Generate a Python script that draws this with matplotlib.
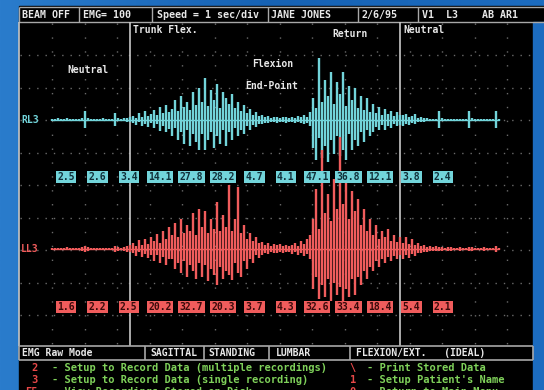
import numpy as np
import matplotlib
matplotlib.use("Agg")
import matplotlib.pyplot as plt

# raw EMG excursion per 3 px column, from the left trace edge: up (hi) and down (lo)
rl3_hi = [1, 1, 2, 1, 1, 2, 1, 1, 1, 1,
          2, 9, 2, 1, 1,
          1, 1, 2, 1, 1, 1,
          7, 2, 1,
          2, 2, 3,
          4, 2, 7, 3, 9, 4, 6,
          10, 5, 13, 7, 15, 8,
          11, 20, 9, 24, 13, 18, 10, 28, 15, 32,
          18, 42, 14, 30, 20, 36, 12, 28, 22, 16,
          26, 12, 18, 9, 15, 7, 11, 5, 8, 4,
          5, 3, 4, 2, 3, 3, 2, 3, 3, 2,
          3, 2, 4, 3, 5, 3, 8,
          22, 12, 62, 18, 40, 24, 48, 16, 38, 26,
          48, 14, 34, 20, 32, 12, 24, 10, 22, 8,
          16, 7, 13, 5, 11, 6, 9, 4, 8, 5,
          5, 6, 3, 4, 6, 2, 3, 2, 2, 1,
          1, 1, 9, 2, 1, 1, 1, 1, 1, 1,
          1, 1, 9, 2, 1, 1, 1, 1, 1, 1, 1, 9, 1]
rl3_lo = [1, 1, 1, 1, 1, 1, 1, 1, 1, 1,
          1, 8, 1, 1, 1,
          1, 1, 1, 1, 1, 1,
          6, 1, 1,
          1, 2, 2,
          3, 5, 2, 6, 4, 7, 3,
          8, 4, 11, 6, 12, 9,
          16, 8, 20, 12, 24, 10, 26, 14, 22, 30,
          14, 30, 20, 12, 28, 16, 24, 10, 26, 12,
          20, 8, 16, 10, 14, 6, 10, 5, 7, 4,
          4, 3, 3, 2, 2, 3, 2, 2, 3, 2,
          2, 3, 2, 3, 4, 3, 6,
          28, 40, 18, 38, 26, 42, 20, 34, 16, 36,
          30, 40, 14, 30, 20, 26, 12, 22, 10, 16,
          12, 7, 10, 5, 10, 6, 8, 4, 6, 5,
          6, 4, 5, 3, 4, 2, 2, 2, 1, 1,
          1, 1, 8, 1, 1, 1, 1, 1, 1, 1,
          1, 1, 8, 1, 1, 1, 1, 1, 1, 1, 1, 8, 1]

ll3_hi = [1, 1, 1, 1, 1, 2, 1, 1, 1, 1,
          2, 3, 2, 1, 1,
          1, 1, 1, 1, 1, 1,
          3, 2, 1,
          2, 3, 4,
          6, 3, 9, 4, 10, 5, 12,
          8, 15, 6, 18, 10, 22,
          14, 26, 12, 30, 16, 24, 18, 36, 14, 40,
          22, 38, 16, 30, 20, 47, 18, 34, 22, 64,
          18, 30, 62, 16, 24, 10, 16, 8, 12, 6,
          7, 4, 6, 3, 5, 4, 5, 3, 4, 3,
          4, 6, 3, 8, 5, 10, 14,
          30, 60, 20, 99, 36, 55, 28, 70, 40, 112,
          45, 70, 30, 58, 38, 50, 24, 40, 18, 30,
          14, 24, 10, 18, 12, 20, 8, 14, 7, 12,
          6, 12, 5, 10, 4, 6, 3, 4, 2, 3,
          2, 3, 2, 2, 1, 2, 2, 1, 1, 2,
          1, 1, 2, 2, 1, 1, 1, 2, 1, 1, 1, 3, 1]
ll3_lo = [1, 1, 1, 1, 1, 1, 1, 1, 1, 1,
          2, 3, 2, 1, 1,
          1, 1, 1, 1, 1, 1,
          3, 2, 1,
          2, 3, 3,
          4, 7, 3, 8, 5, 9, 6,
          12, 6, 14, 8, 16, 10,
          10, 20, 14, 24, 12, 28, 16, 22, 30, 14,
          28, 16, 32, 20, 26, 36, 18, 30, 22, 26,
          31, 14, 24, 28, 12, 20, 10, 14, 6, 9,
          6, 4, 5, 3, 4, 4, 3, 4, 3, 3,
          5, 3, 6, 4, 7, 5, 10,
          40, 28, 50, 36, 48, 30, 52, 34, 46, 38,
          55, 40, 48, 30, 46, 28, 36, 22, 30, 18,
          22, 12, 18, 10, 14, 8, 12, 7, 10, 6,
          10, 6, 9, 5, 7, 4, 4, 3, 3, 2,
          2, 2, 2, 2, 1, 2, 2, 1, 1, 2,
          1, 1, 2, 2, 1, 1, 1, 2, 1, 1, 1, 3, 1]

# percent activity per one-second division
rl3_pct = [2.5, 2.6, 3.4, 14.1, 27.8, 28.2, 4.7, 4.1, 47.1, 36.8, 12.1, 3.8, 2.4]
ll3_pct = [1.6, 2.2, 2.5, 20.2, 32.7, 20.3, 3.7, 4.3, 32.6, 33.4, 18.4, 5.4, 2.1]

header = ["BEAM OFF", "EMG= 100", "Speed = 1 sec/div", "JANE JONES", "2/6/95", "V1  L3    AB AR1"]
status = ["EMG Raw Mode", "SAGITTAL", "STANDING", "LUMBAR", "FLEXION/EXT.   (IDEAL)"]
menu_left = [("2", "- Setup to Record Data (multiple recordings)"),
             ("3", "- Setup to Record Data (single recording)"),
             ("F5", "- View Recordings Stored on Disk")]
menu_right = [("\\", "- Print Stored Data"),
              ("1", "- Setup Patient's Name"),
              ("0", "- Return to Main Menu")]

CYAN = "#72d4da"
RED = "#f05c5c"
GREY = "#a8a8a8"
WHITE = "#e8e8e8"
GREEN = "#7fd15a"
MONO = "DejaVu Sans Mono"

fig = plt.figure(figsize=(5.44, 3.90), dpi=100)
ax = fig.add_axes([0, 0, 1, 1])
ax.set_xlim(0, 544)
ax.set_ylim(390, 0)
ax.axis("off")

# blue slide background + black monitor screen
grad = np.linspace(0, 1, 256).reshape(1, -1)
ax.imshow(grad, extent=[0, 544, 390, 0], aspect="auto",
          cmap=matplotlib.colors.LinearSegmentedColormap.from_list("bg", ["#2a7ccc", "#1662b4", "#1c6cc0"]),
          zorder=0)
ax.add_patch(plt.Rectangle((19, 6), 525, 384, color="black", zorder=1))
ax.add_patch(plt.Rectangle((533, 22), 11, 368, color="#1c6cc0", zorder=1))

# header bar
ax.hlines([7, 22], 19, 544, color=GREY, lw=1, zorder=3)
for xs in [19, 79, 152, 268, 358, 418]:
    ax.vlines(xs, 7, 22, color=GREY, lw=1, zorder=3)
head_x = [22, 83, 157, 271, 362, 422]
for hx, txt in zip(head_x, header):
    ax.text(hx, 15, txt, color=WHITE, fontsize=7.2, family=MONO, weight="bold",
            va="center", ha="left", zorder=4)

# dotted grid
grid_x = 52 + 32.5 * np.arange(15)
grid_y = 55 + 32.5 * np.arange(9)
ax.vlines(grid_x, 23, 345, color="#6a6a6a", lw=1, linestyles=(0, (1, 9)), zorder=2)
ax.hlines(grid_y, 20, 532, color="#6a6a6a", lw=1, linestyles=(0, (1, 5)), zorder=2)

# phase separators and frame
ax.vlines([19, 130, 400], 22, 346, color="#c8c8c8", lw=1.2, zorder=3)

phase_labels = [(67, 70, "Neutral"), (133, 30, "Trunk Flex."), (252, 64, "Flexion"),
                (245, 86, "End-Point"), (332, 34, "Return"), (403, 30, "Neutral")]
for px, py, txt in phase_labels:
    ax.text(px, py, txt, color=WHITE, fontsize=7.0, family=MONO, weight="bold",
            va="center", ha="left", zorder=4)

# EMG traces: baseline plus the min/max excursion of every column
for hi, lo, base, col in [(rl3_hi, rl3_lo, 120, CYAN), (ll3_hi, ll3_lo, 249, RED)]:
    xs = 52 + 3 * np.arange(len(hi))
    ax.hlines(base, xs[0], xs[-1], color=col, lw=1.0, zorder=5)
    ax.vlines(xs, base - np.array(hi), base + np.array(lo), color=col, lw=1.7, zorder=5)
ax.text(21, 120, "RL3", color=CYAN, fontsize=7, family=MONO, weight="bold", va="center", zorder=4)
ax.text(21, 249, "LL3", color=RED, fontsize=7, family=MONO, weight="bold", va="center", zorder=4)

# percent boxes
box_x = 66 + 31.4 * np.arange(len(rl3_pct))
for bx, v in zip(box_x, rl3_pct):
    ax.text(bx, 177, f"{v:.1f}", color="#10303a", fontsize=7, family=MONO, weight="bold",
            ha="center", va="center", zorder=6,
            bbox=dict(boxstyle="square,pad=0.15", fc=CYAN, ec="none"))
for bx, v in zip(box_x, ll3_pct):
    ax.text(bx, 307, f"{v:.1f}", color="#3a0a0a", fontsize=7, family=MONO, weight="bold",
            ha="center", va="center", zorder=6,
            bbox=dict(boxstyle="square,pad=0.15", fc=RED, ec="none"))

# status bar
ax.hlines([346, 360], 19, 533, color=GREY, lw=1.2, zorder=3)
for xs_ in [19, 145, 204, 269, 350, 533]:
    ax.vlines(xs_, 346, 360, color=GREY, lw=1.2, zorder=3)
for sx, txt in zip([22, 150, 208, 276, 356], status):
    ax.text(sx, 353.5, txt, color=WHITE, fontsize=7, family=MONO, weight="bold",
            va="center", ha="left", zorder=4)

# key menu
for row, ((k1, t1), (k2, t2)) in enumerate(zip(menu_left, menu_right)):
    y = 368 + 12 * row
    ax.text(38, y, k1, color="#e84848", fontsize=7.5, family=MONO, weight="bold",
            va="center", ha="right", zorder=4)
    ax.text(52, y, t1, color=GREEN, fontsize=7.5, family=MONO, weight="bold",
            va="center", ha="left", zorder=4)
    ax.text(356, y, k2, color="#e84848", fontsize=7.5, family=MONO, weight="bold",
            va="center", ha="right", zorder=4)
    ax.text(367, y, t2, color=GREEN, fontsize=7.5, family=MONO, weight="bold",
            va="center", ha="left", zorder=4)

fig.savefig("out.png", dpi=100, facecolor="black")
